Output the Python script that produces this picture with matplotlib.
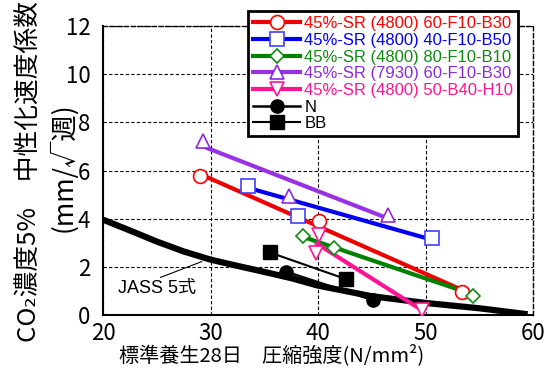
import matplotlib
matplotlib.use("Agg")
import matplotlib.pyplot as plt
from matplotlib.lines import Line2D

SANS = ['Liberation Sans', 'Noto Sans CJK JP', 'DejaVu Sans']
CJK = ['Noto Sans CJK JP', 'DejaVu Sans']

# measured points (compressive strength, carbonation rate)
red_x = [29.0, 40.1, 53.4]
red_y = [5.79, 3.92, 0.97]
blue_x = [33.5, 38.1, 50.6]
blue_y = [5.37, 4.10, 3.20]
green_x = [38.6, 41.5, 54.4]
green_y = [3.29, 2.80, 0.79]
purple_x = [29.3, 37.3, 46.5]
purple_y = [7.24, 4.96, 4.14]
pink_x = [40.1, 39.8, 49.7]
pink_y = [3.33, 2.57, 0.22]
n_x = [37.0, 45.1]
n_y = [1.80, 0.62]
bb_x = [35.5, 42.6]
bb_y = [2.60, 1.49]

# regression lines (end points)
red_fit_x = [29.6, 53.0]
red_fit_y = [5.74, 1.12]
blue_fit_x = [33.5, 50.0]
blue_fit_y = [5.28, 3.20]
green_fit_x = [38.9, 52.9]
green_fit_y = [3.20, 1.08]
purple_fit_x = [29.3, 46.4]
purple_fit_y = [7.00, 4.03]
pink_fit_x = [39.9, 49.2]
pink_fit_y = [2.96, 0.33]

# JASS 5 curve
jass_x = [20, 22.5, 25, 27.5, 30, 32.5, 35, 37.5, 40, 45, 50, 55, 59.5]
jass_y = [3.96, 3.51, 3.05, 2.64, 2.30, 2.04, 1.79, 1.53, 1.22, 0.78, 0.50, 0.28, 0.03]

labels = ['45%-SR (4800) 60-F10-B30', '45%-SR (4800) 40-F10-B50',
          '45%-SR (4800) 80-F10-B10', '45%-SR (7930) 60-F10-B30',
          '45%-SR (4800) 50-B40-H10', 'N', 'BB']

fig = plt.figure(figsize=(5.44, 3.73), dpi=100)
ax = fig.add_axes([103 / 544, 58 / 373, 430 / 544, 289 / 373])

ax.plot(jass_x, jass_y, color='black', lw=4.5, solid_capstyle='butt',
        solid_joinstyle='round', zorder=2)

series = [
    (red_x, red_y, red_fit_x, red_fit_y, '#ee0000', '#ff0000', 'o', 10),
    (blue_x, blue_y, blue_fit_x, blue_fit_y, '#0000ee', '#4040ff', 's', 10),
    (green_x, green_y, green_fit_x, green_fit_y, '#008000', '#108a10', 'D', 7),
    (purple_x, purple_y, purple_fit_x, purple_fit_y, '#9932e0', '#8a2be2', '^', 10),
    (pink_x, pink_y, pink_fit_x, pink_fit_y, '#ff1493', '#ff1493', 'v', 10),
]
handles = []
for xs, ys, fx, fy, lc, mc, mk, ms in series:
    ax.plot(fx, fy, color=lc, lw=3, zorder=3)
    ax.plot(xs, ys, ls='none', marker=mk, ms=ms, mfc='white', mec=mc, mew=1.2, zorder=4)
    handles.append(Line2D([], [], color=lc, lw=3, marker=mk, ms=ms, mfc='white', mec=mc, mew=1.2))

ax.plot(n_x, n_y, color='black', lw=1.8, marker='o', ms=9.5, zorder=4)
ax.plot(bb_x, bb_y, color='black', lw=1.5, marker='s', ms=10.5, zorder=4)
handles.append(Line2D([], [], color='black', lw=1.8, marker='o', ms=9.5))
handles.append(Line2D([], [], color='black', lw=1.5, marker='s', ms=10.5))

ax.annotate('JASS 5式', xy=(29.2, 2.22), xytext=(21.4, 1.09),
            fontsize=13, family=SANS, va='center', ha='left',
            arrowprops=dict(arrowstyle='-', color='black', lw=0.8,
                            shrinkA=0, shrinkB=0, relpos=(0.45, 1.0)))

ax.set_xlim(20, 60)
ax.set_ylim(0, 12)
ax.set_xticks([20, 30, 40, 50, 60])
ax.set_yticks([0, 2, 4, 6, 8, 10, 12])
ax.tick_params(length=0, labelsize=16)
ax.tick_params(axis='y', pad=9)
ax.tick_params(axis='x', pad=5)
for lab in ax.get_xticklabels() + ax.get_yticklabels():
    lab.set_family(CJK)
ax.grid(True, color='black', ls=(0, (3, 2)), lw=0.8)
for s in ['left', 'bottom']:
    ax.spines[s].set_linewidth(1.5)
for s in ['top', 'right']:
    ax.spines[s].set_linestyle((0, (3, 2)))
    ax.spines[s].set_linewidth(1.0)

leg = ax.legend(handles, labels, loc='upper right', bbox_to_anchor=(0.985, 1.08),
                prop={'family': SANS, 'size': 12}, handlelength=2.8,
                handletextpad=0.25, labelspacing=0.1, borderpad=0.3,
                fancybox=False, framealpha=1, edgecolor='black')
leg.get_frame().set_linewidth(2)
leg.set_zorder(10)
text_colors = ['#ff0000', '#0000ff', '#108a10', '#8a2be2', '#ff1493', 'black', 'black']
for t, c in zip(leg.get_texts(), text_colors):
    t.set_color(c)

fig.text(0.055, 0.54, 'CO₂濃度5%　中性化速度係数', rotation=90, ha='center', va='center',
         fontsize=18.5, family=CJK)
fig.text(0.116, 0.552, '(mm/√週)', rotation=90, ha='center', va='center',
         fontsize=19, family=CJK)
fig.text(0.5, 0.048, '標準養生28日　圧縮強度(N/mm²)', ha='center', va='center',
         fontsize=14.5, family=CJK)

fig.savefig('out.png', dpi=100)
